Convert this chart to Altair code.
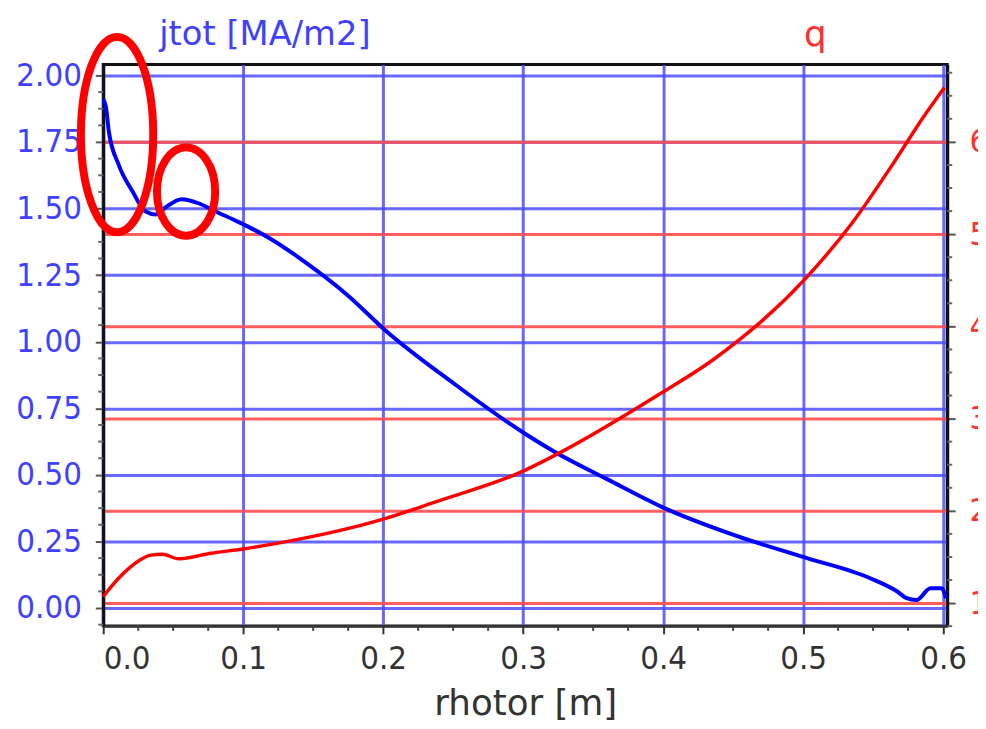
import altair as alt
import pandas as pd

# jtot profile (blue, left axis)
rho_j = [0.0, 0.002, 0.004, 0.011, 0.021, 0.030, 0.0376, 0.0447, 0.056, 0.068, 0.080,
         0.0965, 0.108, 0.120, 0.144, 0.175, 0.200, 0.250, 0.300, 0.323, 0.360, 0.399,
         0.453, 0.4986, 0.548, 0.567, 0.574, 0.581, 0.591, 0.599, 0.602]
jtot = [1.91, 1.88, 1.79, 1.665, 1.564, 1.49, 1.478, 1.505, 1.535, 1.52, 1.49,
        1.45, 1.42, 1.385, 1.30, 1.173, 1.05, 0.845, 0.659, 0.585, 0.484, 0.38,
        0.27, 0.194, 0.112, 0.063, 0.037, 0.03, 0.074, 0.074, 0.037]

# q profile (red, right axis)
rho_q = [0.0, 0.002, 0.011, 0.0255, 0.034, 0.042, 0.054, 0.077, 0.101, 0.125, 0.200,
         0.238, 0.300, 0.325, 0.399, 0.435, 0.500, 0.536, 0.565, 0.586, 0.601]
q = [1.07, 1.11, 1.27, 1.46, 1.52, 1.53, 1.48, 1.54, 1.59, 1.65, 1.91,
     2.10, 2.43, 2.62, 3.28, 3.63, 4.49, 5.14, 5.78, 6.27, 6.59]

x_ticks = [0.0, 0.1, 0.2, 0.3, 0.4, 0.5, 0.6]
j_ticks = [0.0, 0.25, 0.5, 0.75, 1.0, 1.25, 1.5, 1.75, 2.0]
q_ticks = [1, 2, 3, 4, 5, 6]
x_minor = [0.025, 0.05, 0.075, 0.125, 0.15, 0.175, 0.225, 0.25, 0.275, 0.325, 0.35, 0.375,
           0.425, 0.45, 0.475, 0.525, 0.55, 0.575]
j_minor = [-0.0625, 0.0625, 0.125, 0.1875, 0.3125, 0.375, 0.4375, 0.5625, 0.625, 0.6875,
           0.8125, 0.875, 0.9375, 1.0625, 1.125, 1.1875, 1.3125, 1.375, 1.4375,
           1.5625, 1.625, 1.6875, 1.8125, 1.875, 1.9375]
q_minor = [0.75, 1.25, 1.5, 1.75, 2.25, 2.5, 2.75, 3.25, 3.5, 3.75, 4.25, 4.5, 4.75,
           5.25, 5.5, 5.75, 6.25, 6.5, 6.75]

# annotation ellipses (centres in data units)
ell1_x = [0.0099]
ell1_y = [1.778]
ell2_x = [0.0592]
ell2_y = [1.564]

LFONT = "DejaVu Sans Condensed, DejaVu Sans"
TFONT = "DejaVu Sans"
W, H = 851, 566

xscale = alt.Scale(domain=[0, 0.603], nice=False, zero=False)
jscale = alt.Scale(domain=[-0.067, 2.041], nice=False, zero=False)
qscale = alt.Scale(domain=[0.753, 6.839], nice=False, zero=False)

xaxis = alt.Axis(values=x_ticks, format=".1f", grid=True, gridColor="#4d4dff",
                 gridWidth=3, gridOpacity=0.85, domainColor="#333333", domainWidth=3,
                 tickColor="#333333", tickSize=8, tickWidth=2, labelFont=LFONT,
                 labelFontSize=33, labelColor="#333333", labelPadding=9,
                 title="rhotor [m]", titleFont=TFONT, titleFontSize=36,
                 titleFontWeight="normal", titleColor="#333333", titleY=89,
                 titleBaseline="alphabetic")

jaxis = alt.Axis(orient="left", values=j_ticks, format=".2f", grid=True,
                 gridColor="#4d4dff", gridWidth=3, gridOpacity=0.85,
                 domainColor="#111111", domainWidth=3, tickColor="#555555",
                 tickSize=8, tickWidth=2, labelFont=LFONT, labelFontSize=33,
                 labelColor="#4040ff", labelPadding=14, title="jtot [MA/m2]",
                 titleAngle=0, titleAlign="left", titleX=56, titleY=-20,
                 titleBaseline="alphabetic", titleFont=TFONT, titleFontSize=34,
                 titleFontWeight="normal", titleColor="#4040ff")

qaxis = alt.Axis(orient="right", values=q_ticks, format="d", grid=True,
                 gridColor="#ff4d4d", gridWidth=3, gridOpacity=0.9,
                 domainColor="#111111", domainWidth=3, tickColor="#555555",
                 tickSize=8, tickWidth=2, labelFont=LFONT, labelFontSize=33,
                 labelColor="#ff3030", labelPadding=14, title="q",
                 titleAngle=0, titleAlign="left", titleX=-145, titleY=-19,
                 titleBaseline="alphabetic", titleFont=TFONT, titleFontSize=36,
                 titleFontWeight="normal", titleColor="#ff3030")

dfj = pd.DataFrame({"rho": rho_j, "jtot": jtot})
dfq = pd.DataFrame({"rho": rho_q, "q": q})

blue_line = alt.Chart(dfj).mark_line(color="#0000ff", strokeWidth=4,
                                     interpolate="monotone").encode(
    x=alt.X("rho:Q", scale=xscale, axis=xaxis),
    y=alt.Y("jtot:Q", scale=jscale, axis=jaxis),
)

red_line = alt.Chart(dfq).mark_line(color="#ff0000", strokeWidth=3.5,
                                    interpolate="monotone").encode(
    x=alt.X("rho:Q", scale=xscale),
    y=alt.Y("q:Q", scale=qscale, axis=qaxis),
)

j_minor_layer = alt.Chart(pd.DataFrame({"v": j_minor})).mark_rule(
    color="#666666", strokeWidth=2).encode(
    y=alt.Y("v:Q", scale=jscale, axis=None), x=alt.value(-5), x2=alt.value(0))

q_minor_layer = alt.Chart(pd.DataFrame({"v": q_minor})).mark_rule(
    color="#666666", strokeWidth=2).encode(
    y=alt.Y("v:Q", scale=qscale, axis=None), x=alt.value(W), x2=alt.value(W + 5))

x_minor_layer = alt.Chart(pd.DataFrame({"rho": x_minor})).mark_rule(
    color="#444444", strokeWidth=2).encode(
    x=alt.X("rho:Q", scale=xscale), y=alt.value(H), y2=alt.value(H + 5))

path1 = "M -0.37 0 A 0.37 1 0 1 0 0.37 0 A 0.37 1 0 1 0 -0.37 0 Z"
path2 = "M -0.66 0 A 0.66 1 0 1 0 0.66 0 A 0.66 1 0 1 0 -0.66 0 Z"

e1 = alt.Chart(pd.DataFrame({"rho": ell1_x, "y": ell1_y})).mark_point(
    shape=path1, size=197 * 197, filled=False, color="#ff0000", strokeWidth=8,
    opacity=1).encode(x=alt.X("rho:Q", scale=xscale),
                      y=alt.Y("y:Q", scale=jscale, axis=None))
e2 = alt.Chart(pd.DataFrame({"rho": ell2_x, "y": ell2_y})).mark_point(
    shape=path2, size=89 * 89, filled=False, color="#ff0000", strokeWidth=8,
    opacity=1).encode(x=alt.X("rho:Q", scale=xscale),
                      y=alt.Y("y:Q", scale=jscale, axis=None))

chart = alt.layer(blue_line, red_line, j_minor_layer, q_minor_layer,
                  x_minor_layer, e1, e2).resolve_scale(y="independent").properties(
    width=W, height=H,
    autosize=alt.AutoSizeParams(type="none"),
    padding={"left": 96, "top": 54, "right": 31, "bottom": 100},
).configure_view(stroke="#111111", strokeWidth=3)

chart.save("out.html", embed_options={"renderer": "svg", "actions": False})
